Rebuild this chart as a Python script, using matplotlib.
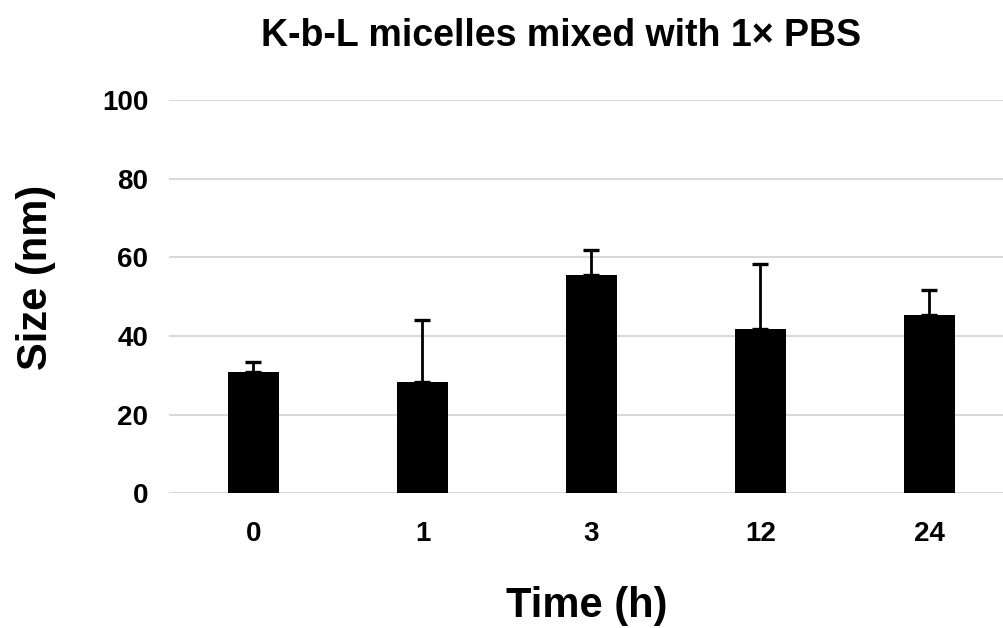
import matplotlib
matplotlib.use("Agg")
import matplotlib.pyplot as plt
import numpy as np

plt.rcParams['font.family'] = ['Liberation Sans', 'DejaVu Sans']
plt.rcParams['font.weight'] = 'bold'

# data
time_labels = ["0", "1", "3", "12", "24"]
size_nm = [30.9, 28.2, 55.4, 41.9, 45.3]
size_err = [2.6, 15.9, 6.5, 16.4, 6.5]

def main():
    fig = plt.figure(figsize=(10.04, 6.28), dpi=100)
    ax = fig.add_axes([169/1004, (628-493.3)/628, (1004-169)/1004, 393.3/628])

    x = np.arange(len(time_labels))
    lower = np.zeros(len(size_err))
    ax.bar(x, size_nm, width=0.30, color="black", zorder=3)
    ax.errorbar(x, size_nm, yerr=[lower, size_err], fmt="none", ecolor="black",
                elinewidth=2.0, capsize=6, capthick=2.4, zorder=4)

    ax.set_ylim(0, 100)
    ax.set_xlim(-0.5, 4.5 - 10/169)
    ax.set_yticks(np.arange(0, 101, 20))
    ax.set_xticks(x)
    ax.set_xticklabels(time_labels)
    ax.yaxis.grid(True, color="#d9d9d9", linewidth=1.5, zorder=0)
    ax.set_axisbelow(True)
    for s in ax.spines.values():
        s.set_visible(False)
    ax.tick_params(axis="x", length=0, labelsize=20, pad=20)
    ax.tick_params(axis="y", length=0, labelsize=20, pad=15)

    ax.set_xlabel("Time (h)", fontsize=30, fontweight="bold", labelpad=28)
    ax.set_ylabel("Size (nm)", fontsize=30, fontweight="bold")
    ax.yaxis.set_label_coords(-(169 - 56) / 835, (493.3 - 277) / 393.3)
    fig.text(561/1004, 1 - 36/628, "K-b-L micelles mixed with 1× PBS",
             ha="center", va="center", fontsize=27, fontweight="bold")

    fig.savefig("out.png", dpi=100)

if __name__ == "__main__":
    main()
